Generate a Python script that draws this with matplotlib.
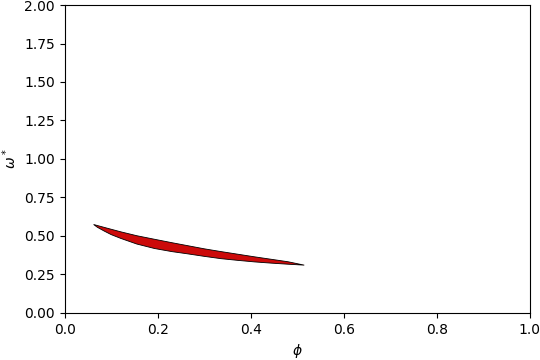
import numpy as np
import matplotlib
matplotlib.use("Agg")
import matplotlib.pyplot as plt

phi_upper = [0.062, 0.090, 0.121, 0.155, 0.193, 0.230, 0.265, 0.300, 0.336, 0.372, 0.408, 0.444, 0.480, 0.515]
omega_upper = [0.574, 0.551, 0.526, 0.501, 0.478, 0.456, 0.436, 0.416, 0.398, 0.381, 0.364, 0.348, 0.332, 0.310]

phi_lower = [0.062, 0.070, 0.085, 0.100, 0.121, 0.155, 0.193, 0.230, 0.265, 0.300, 0.336, 0.372, 0.408, 0.444, 0.480, 0.515]
omega_lower = [0.574, 0.556, 0.531, 0.508, 0.483, 0.447, 0.418, 0.398, 0.383, 0.367, 0.352, 0.341, 0.331, 0.323, 0.316, 0.310]

fig = plt.figure(figsize=(5.4, 3.6), dpi=100)
ax = fig.add_axes([0.120, 0.131, 0.861, 0.855])

xs = np.concatenate([phi_upper, phi_lower[::-1]])
ys = np.concatenate([omega_upper, omega_lower[::-1]])
ax.fill(xs, ys, facecolor="#cc0a0a", edgecolor="black", linewidth=0.6)

ax.set_xlim(0, 1)
ax.set_ylim(0, 2)
ax.set_xlabel(r"$\phi$")
ax.set_ylabel(r"$\omega^*$")

fig.savefig("out.png", dpi=100)
